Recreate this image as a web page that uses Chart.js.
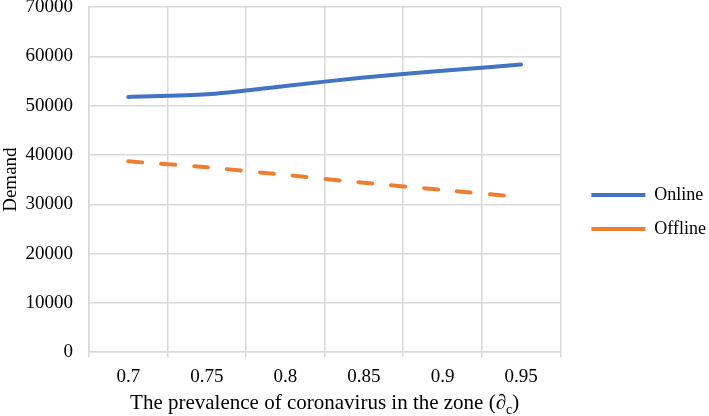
<!DOCTYPE html>
<html>
<head>
<script src="https://cdn.jsdelivr.net/npm/chart.js@4.4.0/dist/chart.umd.min.js"></script>
<style>
    body { margin: 0; background: #fff; }
</style>
</head>
<body>
<canvas id="myChart" width="709" height="416"></canvas>
<script>
// Data
const prevalence = ["0.7", "0.75", "0.8", "0.85", "0.9", "0.95"];
const onlineDemand = [51750, 52300, 54000, 55700, 57050, 58350];
const offlineDemand = [38700, 37500, 35950, 34350, 32900, 31450];
const yTicks = [0, 10000, 20000, 30000, 40000, 50000, 60000, 70000];

const FONT = "Liberation Serif";
const GRID = "#d9d9d9";

// x axis title with the subscript c, drawn by hand under the axis
const xTitlePlugin = {
    id: "xTitle",
    afterLayout(chart) {
        // nudge the legend to where the figure has it
        const lg = chart.legend;
        lg.left += 15; lg.right += 15;
        lg.top += 14; lg.bottom += 14;
    },
    afterDraw(chart) {
        const ctx = chart.ctx;
        const area = chart.chartArea;
        const parts = [
            { text: "The prevalence of coronavirus in the zone (", font: "21px '" + FONT + "'", dy: 0 },
            { text: "\u2202", font: "italic 21px '" + FONT + "'", dy: 0 },
            { text: "c", font: "14px '" + FONT + "'", dy: 5 },
            { text: ")", font: "21px '" + FONT + "'", dy: 0 }
        ];
        ctx.save();
        ctx.fillStyle = "#000";
        ctx.textBaseline = "alphabetic";
        ctx.textAlign = "left";
        let total = 0;
        parts.forEach(p => { ctx.font = p.font; p.w = ctx.measureText(p.text).width; total += p.w; });
        let x = (area.left + area.right) / 2 - total / 2;
        const base = 409;
        parts.forEach(p => {
            ctx.font = p.font;
            ctx.fillText(p.text, x, base + p.dy);
            x += p.w;
        });
        ctx.restore();
    }
};

const ctx = document.getElementById("myChart").getContext("2d");
const chart = new Chart(ctx, {
    type: "line",
    data: {
        labels: prevalence,
        datasets: [
            {
                label: "Online",
                data: onlineDemand,
                borderColor: "#4472c4",
                backgroundColor: "#4472c4",
                borderWidth: 4,
                borderCapStyle: "round",
                tension: 0.25,
                pointRadius: 0,
                fill: false
            },
            {
                label: "Offline",
                data: offlineDemand,
                borderColor: "#ed7d31",
                backgroundColor: "#ed7d31",
                borderWidth: 4,
                borderCapStyle: "round",
                borderDash: [14, 19],
                tension: 0.25,
                pointRadius: 0,
                fill: false
            }
        ]
    },
    options: {
        responsive: false,
        animation: false,
        layout: {
            padding: { top: 0, right: 8, bottom: 20, left: 0 }
        },
        plugins: {
            legend: {
                position: "right",
                labels: {
                    usePointStyle: true,
                    pointStyle: "line",
                    pointStyleWidth: 54,
                    padding: 16,
                    color: "#000",
                    font: { family: FONT, size: 18 }
                }
            },
            tooltip: { enabled: false }
        },
        scales: {
            x: {
                offset: true,
                grid: {
                    offset: true,
                    color: GRID,
                    lineWidth: 1.5,
                    tickLength: 5
                },
                border: { color: GRID, width: 1.5 },
                ticks: {
                    color: "#000",
                    padding: 8,
                    font: { family: FONT, size: 19 }
                }
            },
            y: {
                min: 0,
                max: 70000,
                afterBuildTicks: axis => { axis.ticks = yTicks.map(v => ({ value: v })); },
                afterFit: axis => {
                    axis.width = 89;
                    axis.paddingTop = 7;
                    axis.paddingBottom = 0;
                },
                grid: {
                    color: GRID,
                    lineWidth: 1.5,
                    drawTicks: false
                },
                border: { color: GRID, width: 1.5 },
                ticks: {
                    color: "#000",
                    padding: 16,
                    font: { family: FONT, size: 19 },
                    callback: v => String(v)
                },
                title: {
                    display: true,
                    text: "Demand",
                    color: "#000",
                    padding: { top: 0, bottom: 2 },
                    font: { family: FONT, size: 19 }
                }
            }
        }
    },
    plugins: [xTitlePlugin]
});
</script>
</body>
</html>
